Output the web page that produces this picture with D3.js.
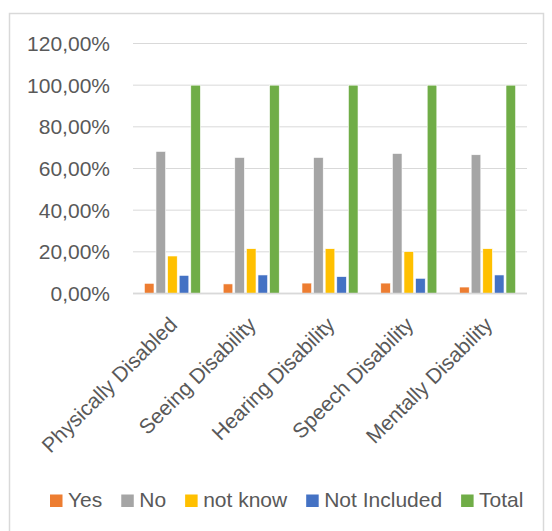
<!DOCTYPE html>
<html>
<head>
<meta charset="utf-8">
<script src="https://cdn.jsdelivr.net/npm/d3@7"></script>
<style>
  body { margin: 0; background: #fff; }
  svg { display: block; font-family: "Liberation Sans", Arial, sans-serif; }
</style>
</head>
<body>
<svg id="chart" width="552" height="531"></svg>
<script>
// data
categories = ["Physically Disabled", "Seeing Disability", "Hearing Disability", "Speech Disability", "Mentally Disability"];
series = ["Yes", "No", "not know", "Not Included", "Total"];
yes = [0.049, 0.046, 0.050, 0.050, 0.031];
no = [0.682, 0.653, 0.653, 0.672, 0.666];
notKnow = [0.180, 0.215, 0.215, 0.201, 0.215];
notIncluded = [0.087, 0.089, 0.081, 0.073, 0.089];
total = [1, 1, 1, 1, 1];
yTicks = [0, 0.2, 0.4, 0.6, 0.8, 1.0, 1.2];
colors = ["#ED7D31", "#A5A5A5", "#FFC000", "#4472C4", "#70AD47"];

values = [yes, no, notKnow, notIncluded, total];

TEXT = "#595959";
GRID = "#D9D9D9";

svg = d3.select("#chart");

// chart frame
svg.append("rect")
  .attr("x", 9.5).attr("y", 13.5)
  .attr("width", 534).attr("height", 540)
  .attr("fill", "#fff")
  .attr("stroke", GRID)
  .attr("stroke-width", 1.5);

x0 = d3.scaleBand().domain(categories).range([133, 527]).padding(0);
x1 = d3.scaleBand().domain(series).range([0, x0.bandwidth()])
  .paddingInner(0.17).paddingOuter(0.98);
y = d3.scaleLinear().domain([0, 1.2]).range([293.5, 43.5]);

fmt = function(v) { return d3.format(".2f")(v * 100).replace(".", ",") + "%"; };

// gridlines
svg.append("g").selectAll("line")
  .data(yTicks)
  .enter().append("line")
  .attr("x1", 133).attr("x2", 527)
  .attr("y1", d => y(d)).attr("y2", d => y(d))
  .attr("stroke", GRID)
  .attr("stroke-width", d => d == 0 ? 1.5 : 1);

// y labels
svg.append("g").selectAll("text")
  .data(yTicks)
  .enter().append("text")
  .attr("x", 110)
  .attr("y", d => y(d))
  .attr("dy", "0.35em")
  .attr("text-anchor", "end")
  .attr("font-size", "21px")
  .attr("fill", TEXT)
  .text(fmt);

// bars
var groups = svg.append("g").selectAll("g")
  .data(categories)
  .enter().append("g")
  .attr("transform", d => "translate(" + x0(d) + ",0)");

groups.selectAll("rect")
  .data((c, i) => series.map((s, j) => ({ s: s, v: values[j][i], c: colors[j] })))
  .enter().append("rect")
  .attr("x", d => x1(d.s))
  .attr("width", x1.bandwidth())
  .attr("y", d => y(d.v))
  .attr("height", d => y(0) - y(d.v))
  .attr("fill", d => d.c)
  .attr("stroke", "#fff")
  .attr("stroke-width", 0.6);

// redraw axis line on top
svg.append("line")
  .attr("x1", 133).attr("x2", 527)
  .attr("y1", y(0)).attr("y2", y(0))
  .attr("stroke", GRID).attr("stroke-width", 1.5);

// rotated category labels
svg.append("g").selectAll("text")
  .data(categories)
  .enter().append("text")
  .attr("text-anchor", "end")
  .attr("font-size", "21px")
  .attr("fill", TEXT)
  .attr("transform", d => "translate(" + (x0(d) + x0.bandwidth() / 2 + 6) + ",326) rotate(-45)")
  .text(d => d);

// legend
var legend = svg.append("g").attr("transform", "translate(0,507)");
var lx = 50;
series.forEach(function(s, i) {
  legend.append("rect")
    .attr("x", lx).attr("y", -12.5)
    .attr("width", 12.5).attr("height", 12.5)
    .attr("fill", colors[i]);
  var t = legend.append("text")
    .attr("x", lx + 18)
    .attr("font-size", "21px")
    .attr("fill", TEXT)
    .text(s);
  lx = lx + 18 + t.node().getComputedTextLength() + 19;
});
</script>
</body>
</html>
